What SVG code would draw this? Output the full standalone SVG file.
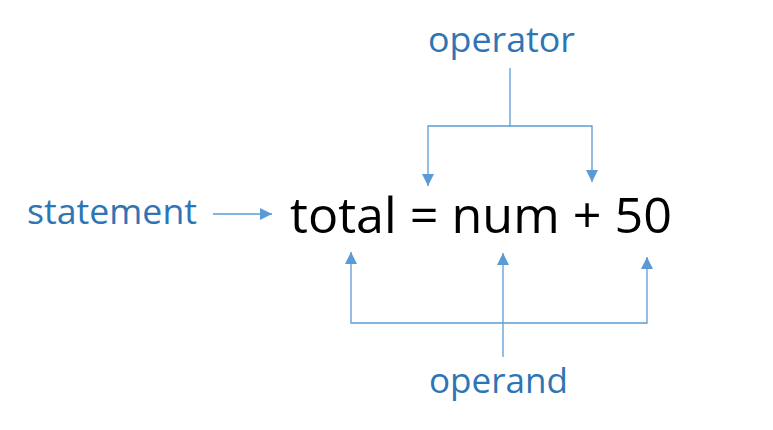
<svg xmlns="http://www.w3.org/2000/svg" width="773" height="430" viewBox="0 0 773 430">
<style>
.lbl{font-family:"Open Sans","Noto Sans",sans-serif;font-size:35px;fill:#2E75B6}
.main{font-family:"Open Sans","Noto Sans",sans-serif;font-size:50px;fill:#000}
.ln{stroke:#5B9BD5;stroke-width:1.3;fill:none}
</style>
<defs>
<marker id="ah" viewBox="0 0 10 10" refX="10" refY="5" markerWidth="12" markerHeight="12" markerUnits="userSpaceOnUse" orient="auto">
<path d="M0,0 L10,5 L0,10 Z" fill="#5B9BD5"/>
</marker>
</defs>
<rect width="773" height="430" fill="#fff"/>
<g id="statement"><text class="lbl" x="27" y="224" textLength="170" lengthAdjust="spacingAndGlyphs">statement</text></g>
<g id="operator"><text class="lbl" x="428" y="52" textLength="147" lengthAdjust="spacingAndGlyphs">operator</text></g>
<g id="operand"><text class="lbl" x="429" y="393" textLength="139" lengthAdjust="spacingAndGlyphs">operand</text></g>
<g id="expression"><text class="main" x="290" y="233" textLength="382" lengthAdjust="spacingAndGlyphs">total = num + 50</text></g>
<g id="connectors">
<path class="ln" d="M213,214 L272,214" marker-end="url(#ah)"/>
<path class="ln" d="M510,68 L510,126"/>
<path class="ln" d="M510,126 L428,126 L428,186" marker-end="url(#ah)"/>
<path class="ln" d="M510,126 L592,126 L592,182" marker-end="url(#ah)"/>
<path class="ln" d="M503,357 L503,253" marker-end="url(#ah)"/>
<path class="ln" d="M503,323 L351,323 L351,252" marker-end="url(#ah)"/>
<path class="ln" d="M503,323 L647,323 L647,257" marker-end="url(#ah)"/>
</g>
</svg>
